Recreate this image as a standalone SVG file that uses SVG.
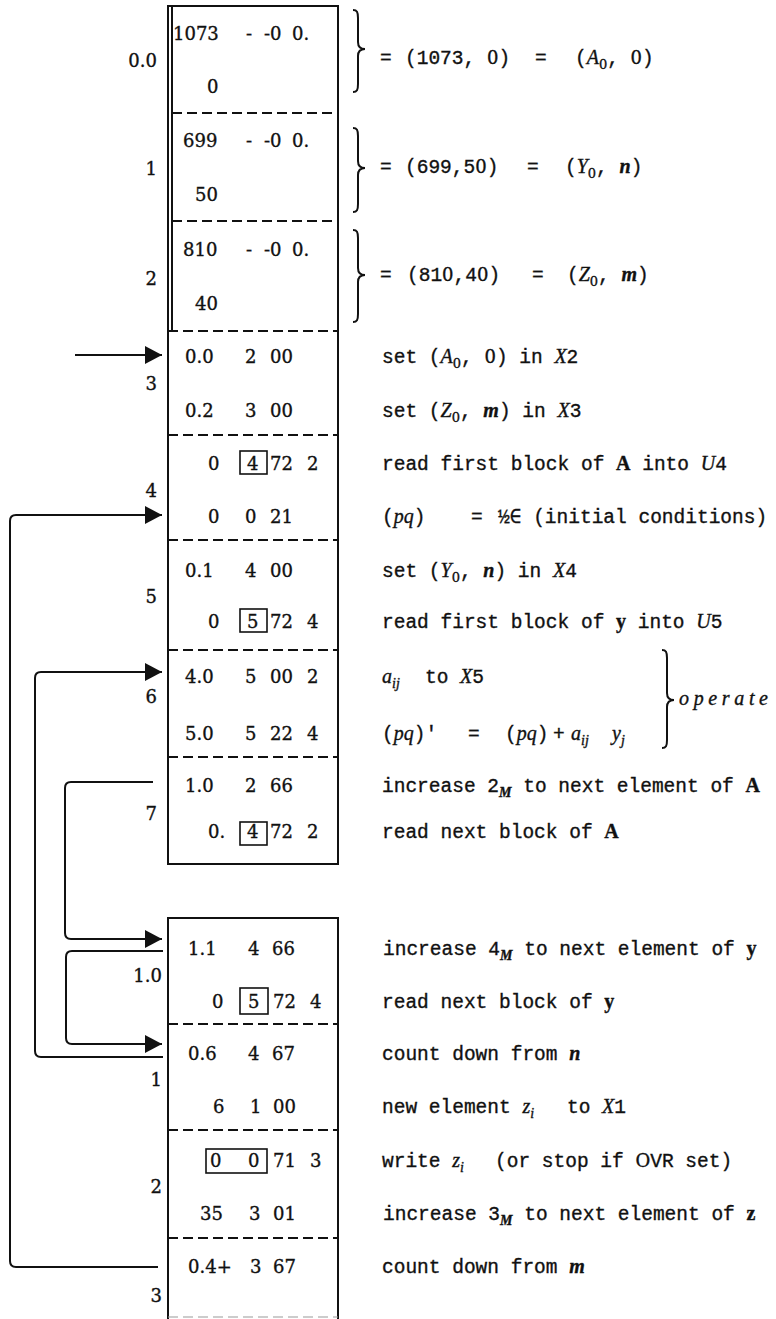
<svg xmlns="http://www.w3.org/2000/svg" width="776" height="1319" viewBox="0 0 776 1319">
<style>
text{white-space:pre;fill:#111;stroke:#111;stroke-width:0.35}
.c{font-family:"DejaVu Serif","Liberation Serif",serif;font-size:18px}
.lb{font-family:"DejaVu Serif","Liberation Serif",serif;font-size:18px;text-anchor:end}
.t{font-family:"Liberation Mono","DejaVu Sans Mono",monospace;font-size:19.5px}
.z{font-family:"DejaVu Serif","Liberation Serif",serif;font-size:18px}
.i{font-style:italic;font-family:"Liberation Serif",serif;font-size:20px}
.b{font-weight:bold;font-family:"Liberation Serif",serif;font-size:20px}
.bi{font-weight:bold;font-style:italic;font-family:"Liberation Serif",serif;font-size:20px}
.s{font-size:13px;font-family:"DejaVu Serif","Liberation Serif",serif}
.si{font-size:14px;font-style:italic;font-family:"Liberation Serif",serif}
.sbi{font-size:14px;font-style:italic;font-weight:bold;font-family:"Liberation Serif",serif}
.frame{fill:none;stroke:#111;stroke-width:2}
.dash{fill:none;stroke:#111;stroke-width:1.8;stroke-dasharray:10 5}
.bx{fill:none;stroke:#111;stroke-width:1.6}
.br{fill:none;stroke:#111;stroke-width:2}
.con{fill:none;stroke:#111;stroke-width:2}
</style>
<defs>
<marker id="ah" markerWidth="18" markerHeight="18" refX="17" refY="9" orient="auto" markerUnits="userSpaceOnUse">
<path d="M0 0 L17 9 L0 18 Z" fill="#111"/>
</marker>
</defs>

<g id="frames">
<rect class="frame" x="168" y="6" width="170" height="858"/>
<line class="frame" x1="172" y1="6" x2="172" y2="330"/>
<path class="frame" d="M168 1319 V918 H338 V1319"/>
<line x1="168" y1="1317" x2="338" y2="1317" stroke="#999" stroke-width="1.2" stroke-dasharray="10 5"/>
</g>

<g id="separators">
<line class="dash" x1="172" y1="113" x2="338" y2="113"/>
<line class="dash" x1="172" y1="221" x2="338" y2="221"/>
<line class="dash" x1="168" y1="331" x2="338" y2="331"/>
<line class="dash" x1="168" y1="435" x2="338" y2="435"/>
<line class="dash" x1="168" y1="540" x2="338" y2="540"/>
<line class="dash" x1="168" y1="650" x2="338" y2="650"/>
<line class="dash" x1="168" y1="757" x2="338" y2="757"/>
<line class="dash" x1="168" y1="1024" x2="338" y2="1024"/>
<line class="dash" x1="168" y1="1130" x2="338" y2="1130"/>
<line class="dash" x1="168" y1="1238" x2="338" y2="1238"/>
</g>

<g id="node-0-0">
<text class="lb" x="157" y="67">0.0</text>
<text class="c" y="40"><tspan x="173">1073</tspan><tspan x="246">-</tspan><tspan x="264">-0</tspan><tspan x="292">0.</tspan></text>
<text class="c" x="207" y="93">0</text>
<path class="br" d="M353 10 C357 10 358 12 358 18 L358 42 C358 47 361 49 365 49 C361 49 358 51 358 56 L358 84 C358 90 357 92 353 92"/>
<text class="t" y="64"><tspan x="380">=</tspan><tspan x="405">(1073, </tspan><tspan class="z">0</tspan><tspan>)</tspan><tspan x="535">=</tspan><tspan x="575">(</tspan><tspan class="i">A</tspan><tspan class="s" dy="5">0</tspan><tspan dy="-5">, </tspan><tspan class="z">0</tspan><tspan>)</tspan></text>
</g>

<g id="node-1">
<text class="lb" x="157" y="175">1</text>
<text class="c" y="147"><tspan x="183">699</tspan><tspan x="246">-</tspan><tspan x="264">-0</tspan><tspan x="292">0.</tspan></text>
<text class="c" x="195" y="201">50</text>
<path class="br" d="M353 128 C357 128 358 130 358 136 L358 161 C358 166 361 168 365 168 C361 168 358 170 358 175 L358 204 C358 210 357 212 353 212"/>
<text class="t" y="173"><tspan x="380">=</tspan><tspan x="405">(699,5</tspan><tspan class="z">0</tspan><tspan>)</tspan><tspan x="527">=</tspan><tspan x="565">(</tspan><tspan class="i">Y</tspan><tspan class="s" dy="5">0</tspan><tspan dy="-5">, </tspan><tspan class="bi">n</tspan><tspan>)</tspan></text>
</g>

<g id="node-2">
<text class="lb" x="157" y="285">2</text>
<text class="c" y="256"><tspan x="183">810</tspan><tspan x="246">-</tspan><tspan x="264">-0</tspan><tspan x="292">0.</tspan></text>
<text class="c" x="195" y="310">40</text>
<path class="br" d="M353 230 C357 230 358 232 358 238 L358 268 C358 273 361 275 365 275 C361 275 358 277 358 282 L358 314 C358 320 357 322 353 322"/>
<text class="t" y="281"><tspan x="380">=</tspan><tspan x="407">(81</tspan><tspan class="z">0</tspan><tspan>,4</tspan><tspan class="z">0</tspan><tspan>)</tspan><tspan x="532">=</tspan><tspan x="567">(</tspan><tspan class="i">Z</tspan><tspan class="s" dy="5">0</tspan><tspan dy="-5">, </tspan><tspan class="bi">m</tspan><tspan>)</tspan></text>
</g>

<g id="node-3">
<text class="lb" x="157" y="390">3</text>
<text class="c" y="363"><tspan x="185">0.0</tspan><tspan x="245">2</tspan><tspan x="270">00</tspan></text>
<text class="c" y="417"><tspan x="185">0.2</tspan><tspan x="245">3</tspan><tspan x="270">00</tspan></text>
<text class="t" x="382" y="363">set (<tspan class="i">A</tspan><tspan class="s" dy="5">0</tspan><tspan dy="-5">, </tspan><tspan class="z">0</tspan>) in <tspan class="i">X</tspan>2</text>
<text class="t" x="382" y="417">set (<tspan class="i">Z</tspan><tspan class="s" dy="5">0</tspan><tspan dy="-5">, </tspan><tspan class="bi">m</tspan>) in <tspan class="i">X</tspan>3</text>
</g>

<g id="node-4">
<text class="lb" x="157" y="497">4</text>
<text class="c" y="470"><tspan x="208">0</tspan><tspan x="247">4</tspan><tspan x="270">72</tspan><tspan x="307">2</tspan></text>
<rect class="bx" x="240" y="451" width="27" height="23"/>
<text class="c" y="523"><tspan x="208">0</tspan><tspan x="245">0</tspan><tspan x="270">21</tspan></text>
<text class="t" x="382" y="470">read first block of <tspan class="b">A</tspan> into <tspan class="i">U</tspan>4</text>
<text class="t" y="523"><tspan x="382">(</tspan><tspan class="i">pq</tspan><tspan>)</tspan><tspan x="471">=</tspan><tspan x="498">½∈ (initial conditions)</tspan></text>
</g>

<g id="node-5">
<text class="lb" x="157" y="603">5</text>
<text class="c" y="577"><tspan x="185">0.1</tspan><tspan x="245">4</tspan><tspan x="270">00</tspan></text>
<text class="c" y="628"><tspan x="208">0</tspan><tspan x="247">5</tspan><tspan x="270">72</tspan><tspan x="307">4</tspan></text>
<rect class="bx" x="240" y="609" width="27" height="23"/>
<text class="t" x="382" y="577">set (<tspan class="i">Y</tspan><tspan class="s" dy="5">0</tspan><tspan dy="-5">, </tspan><tspan class="bi">n</tspan>) in <tspan class="i">X</tspan>4</text>
<text class="t" x="382" y="628">read first block of <tspan class="b">y</tspan> into <tspan class="i">U</tspan>5</text>
</g>

<g id="node-6">
<text class="lb" x="157" y="703">6</text>
<text class="c" y="683"><tspan x="185">4.0</tspan><tspan x="245">5</tspan><tspan x="270">00</tspan><tspan x="307">2</tspan></text>
<text class="c" y="740"><tspan x="185">5.0</tspan><tspan x="245">5</tspan><tspan x="270">22</tspan><tspan x="307">4</tspan></text>
<text class="t" y="683"><tspan x="382" class="i">a</tspan><tspan class="si" dy="5">ij</tspan><tspan x="425" dy="-5">to </tspan><tspan class="i">X</tspan><tspan>5</tspan></text>
<text class="t" y="740"><tspan x="382">(</tspan><tspan class="i">pq</tspan><tspan>)′</tspan><tspan x="468">=</tspan><tspan x="505">(</tspan><tspan class="i">pq</tspan><tspan>)</tspan><tspan x="553">+</tspan><tspan x="571" class="i">a</tspan><tspan class="si" dy="5">ij</tspan><tspan x="612" dy="-5" class="i">y</tspan><tspan class="si" dy="5">j</tspan></text>
<path class="br" d="M662 650 C666 650 667 652 667 658 L667 693 C667 698 670 700 674 700 C670 700 667 702 667 707 L667 740 C667 746 666 748 662 748"/>
<text x="679" y="705" font-family="Liberation Serif, serif" font-style="italic" font-size="20" textLength="89" lengthAdjust="spacing">operate</text>
</g>

<g id="node-7">
<text class="lb" x="157" y="820">7</text>
<text class="c" y="792"><tspan x="185">1.0</tspan><tspan x="245">2</tspan><tspan x="270">66</tspan></text>
<text class="c" y="838"><tspan x="208">0.</tspan><tspan x="247">4</tspan><tspan x="270">72</tspan><tspan x="307">2</tspan></text>
<rect class="bx" x="240" y="822" width="27" height="23"/>
<text class="t" x="382" y="792">increase 2<tspan class="sbi" dy="5">M</tspan><tspan dy="-5"> to next element of </tspan><tspan class="b">A</tspan></text>
<text class="t" x="382" y="838">read next block of <tspan class="b">A</tspan></text>
</g>

<g id="node-1-0">
<text class="lb" x="162" y="982">1.0</text>
<text class="c" y="955"><tspan x="188">1.1</tspan><tspan x="248">4</tspan><tspan x="272">66</tspan></text>
<text class="c" y="1008"><tspan x="212">0</tspan><tspan x="248">5</tspan><tspan x="273">72</tspan><tspan x="310">4</tspan></text>
<rect class="bx" x="240" y="988" width="28" height="26"/>
<text class="t" x="383" y="955">increase 4<tspan class="sbi" dy="5">M</tspan><tspan dy="-5"> to next element of </tspan><tspan class="b">y</tspan></text>
<text class="t" x="382" y="1008">read next block of <tspan class="b">y</tspan></text>
</g>

<g id="node-1-1">
<text class="lb" x="162" y="1086">1</text>
<text class="c" y="1060"><tspan x="188">0.6</tspan><tspan x="248">4</tspan><tspan x="272">67</tspan></text>
<text class="c" y="1113"><tspan x="213">6</tspan><tspan x="250">1</tspan><tspan x="273">00</tspan></text>
<text class="t" x="382" y="1060">count down from <tspan class="bi">n</tspan></text>
<text class="t" y="1113"><tspan x="382">new element </tspan><tspan class="i">z</tspan><tspan class="si" dy="5">i</tspan><tspan x="567" dy="-5">to </tspan><tspan class="i">X</tspan><tspan>1</tspan></text>
</g>

<g id="node-1-2">
<text class="lb" x="162" y="1193">2</text>
<text class="c" y="1167"><tspan x="210">0</tspan><tspan x="248">0</tspan><tspan x="273">71</tspan><tspan x="310">3</tspan></text>
<rect class="bx" x="206" y="1149" width="61" height="24"/>
<text class="c" y="1220"><tspan x="200">35</tspan><tspan x="249">3</tspan><tspan x="273">01</tspan></text>
<text class="t" y="1167"><tspan x="382">write </tspan><tspan class="i">z</tspan><tspan class="si" dy="5">i</tspan><tspan x="495" dy="-5">(or stop if </tspan><tspan class="z">O</tspan><tspan>VR set)</tspan></text>
<text class="t" x="383" y="1220">increase 3<tspan class="sbi" dy="5">M</tspan><tspan dy="-5"> to next element of </tspan><tspan class="b">z</tspan></text>
</g>

<g id="node-1-3">
<text class="lb" x="162" y="1302">3</text>
<text class="c" y="1273"><tspan x="188">0.4+</tspan><tspan x="250">3</tspan><tspan x="273">67</tspan></text>
<text class="t" x="382" y="1273">count down from <tspan class="bi">m</tspan></text>
</g>

<g id="connectors">
<path class="con" d="M75 355 H162" marker-end="url(#ah)"/>
<path class="con" d="M158 1267 H16 Q10 1267 10 1261 V521 Q10 515 16 515 H162" marker-end="url(#ah)"/>
<path class="con" d="M163 1057 H41 Q35 1057 35 1051 V678 Q35 672 41 672 H162" marker-end="url(#ah)"/>
<path class="con" d="M153 782 H71 Q65 782 65 788 V933 Q65 939 71 939 H162" marker-end="url(#ah)"/>
<path class="con" d="M163 951 H72 Q66 951 66 957 V1038 Q66 1044 72 1044 H162" marker-end="url(#ah)"/>
</g>
</svg>
